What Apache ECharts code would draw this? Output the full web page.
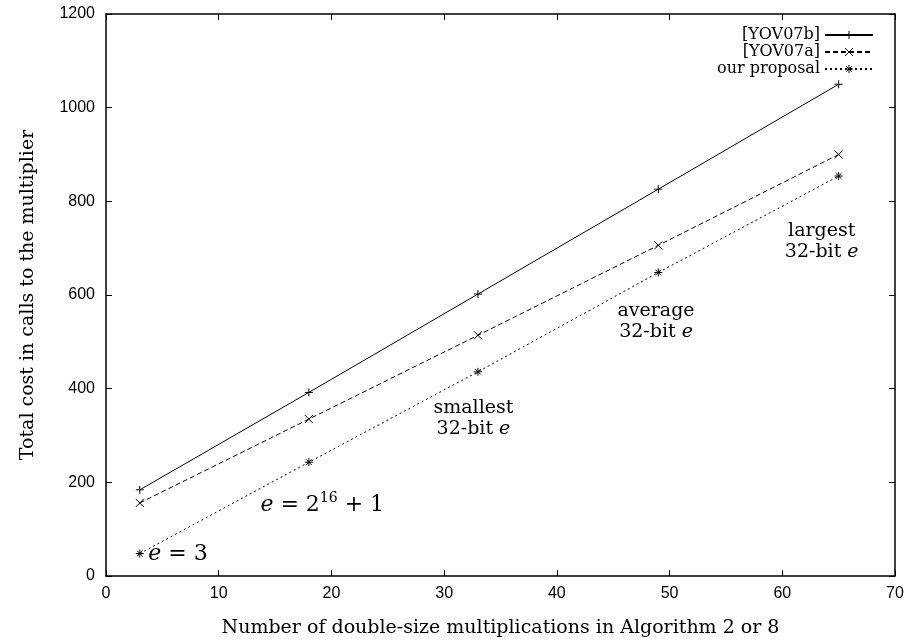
<!DOCTYPE html>
<html>
<head>
<meta charset="utf-8">
<script src="https://cdn.jsdelivr.net/npm/echarts@6/dist/echarts.min.js"></script>
<style>
  html, body { margin: 0; padding: 0; background: #fff; }
  #main { width: 909px; height: 643px; }
</style>
</head>
<body>
<div id="main"></div>
<script>
  // number of double-size multiplications
  var xs = [3, 18, 33, 49, 65];

  var yov07b = [184, 392, 602, 826, 1050];
  var yov07a = [156, 335, 514, 706, 900];
  var ours = [48, 243, 436, 648, 854];

  // exponent notes, left aligned (data coords)
  var eqX = [3.75, 13.7];
  var eqY = [46, 150];
  var eqText = ['{i|e} = 3', '{i|e} = 2{sup|16} + 1'];

  // 32-bit notes, centred (data coords)
  var rangeX = [32.6, 48.8, 63.5];
  var rangeY = [337, 544, 715];
  var rangeText = ['smallest\n32-bit {s|e}', 'average\n32-bit {s|e}', 'largest\n32-bit {s|e}'];

  var serif = 'DejaVu Serif';
  var sans = 'Liberation Sans';

  var plusPath = 'path://M0,5L10,5M5,0L5,10';
  var crossPath = 'path://M1,1L9,9M9,1L1,9';
  var starPath = 'path://M0,5L10,5M5,0L5,10M1.5,1.5L8.5,8.5M8.5,1.5L1.5,8.5';

  function pairs(px, py) {
    var res = [];
    for (var i = 0; i < px.length; i++) {
      res.push([px[i], py[i]]);
    }
    return res;
  }

  function lineSeries(name, ys, symbol, type) {
    return {
      name: name,
      type: 'line',
      data: pairs(xs, ys),
      symbol: symbol,
      symbolSize: 8,
      showAllSymbol: true,
      lineStyle: { color: '#000', width: 1, type: type },
      itemStyle: { color: 'transparent', borderColor: '#000', borderWidth: 1 },
      emphasis: { disabled: true }
    };
  }

  function noteSeries(name, px, py, texts, size, lh, pos, align) {
    var rows = pairs(px, py);
    var data = [];
    for (var i = 0; i < rows.length; i++) {
      data.push({ value: rows[i], text: texts[i] });
    }
    return {
      name: name,
      type: 'scatter',
      symbolSize: 0,
      data: data,
      silent: true,
      itemStyle: { opacity: 1 },
      label: {
        show: true,
        position: pos,
        distance: 0,
        align: align,
        verticalAlign: 'middle',
        fontFamily: serif,
        fontSize: size,
        lineHeight: lh,
        color: '#000',
        opacity: 1,
        formatter: function (p) { return p.data.text; },
        rich: {
          i: { fontStyle: 'italic', fontFamily: serif, fontSize: 22, color: '#000' },
          s: { fontStyle: 'italic', fontFamily: serif, fontSize: size, color: '#000' },
          sup: { fontFamily: serif, fontSize: 14, color: '#000', padding: [0, 0, 14, 0] }
        }
      }
    };
  }

  function frameAxis(extra) {
    var a = {
      type: 'value',
      axisLine: { show: true, onZero: false, lineStyle: { color: '#000', width: 1.5 } },
      axisTick: { show: true, inside: true, length: 6, lineStyle: { color: '#000' } },
      splitLine: { show: false }
    };
    for (var k in extra) a[k] = extra[k];
    return a;
  }

  var chart = echarts.init(document.getElementById('main'));

  chart.setOption({
    backgroundColor: '#fff',
    animation: false,
    grid: { left: 106, right: 14, top: 14, bottom: 60 },
    legend: {
      orient: 'vertical',
      right: 30,
      top: 22,
      align: 'right',
      itemGap: 1,
      itemWidth: 48,
      itemHeight: 10,
      itemStyle: { color: 'transparent', borderColor: '#000', borderWidth: 1 },
      textStyle: { fontFamily: serif, fontSize: 16, color: '#000' },
      data: ['[YOV07b]', '[YOV07a]', 'our proposal']
    },
    xAxis: [
      frameAxis({
        min: 0, max: 70, interval: 10,
        name: 'Number of double-size multiplications in Algorithm 2 or 8',
        nameLocation: 'middle',
        nameGap: 43,
        nameTextStyle: { fontFamily: serif, fontSize: 19, color: '#000' },
        axisLabel: { fontFamily: sans, fontSize: 16, color: '#000', margin: 10 }
      }),
      frameAxis({ position: 'top', min: 0, max: 70, interval: 10, axisLabel: { show: false } })
    ],
    yAxis: [
      frameAxis({
        min: 0, max: 1200, interval: 200,
        name: 'Total cost in calls to the multiplier',
        nameLocation: 'middle',
        nameGap: 68,
        nameTextStyle: { fontFamily: serif, fontSize: 19, color: '#000' },
        axisLabel: {
          fontFamily: sans, fontSize: 16, color: '#000', margin: 11,
          formatter: function (v) { return String(v); }
        }
      }),
      frameAxis({ position: 'right', min: 0, max: 1200, interval: 200, axisLabel: { show: false } })
    ],
    series: [
      lineSeries('[YOV07b]', yov07b, plusPath, 'solid'),
      lineSeries('[YOV07a]', yov07a, crossPath, [5, 3]),
      lineSeries('our proposal', ours, starPath, [2, 3]),
      noteSeries('eq', eqX, eqY, eqText, 22, 26, 'right', 'left'),
      noteSeries('range', rangeX, rangeY, rangeText, 19, 21, 'inside', 'center')
    ]
  });
</script>
</body>
</html>
